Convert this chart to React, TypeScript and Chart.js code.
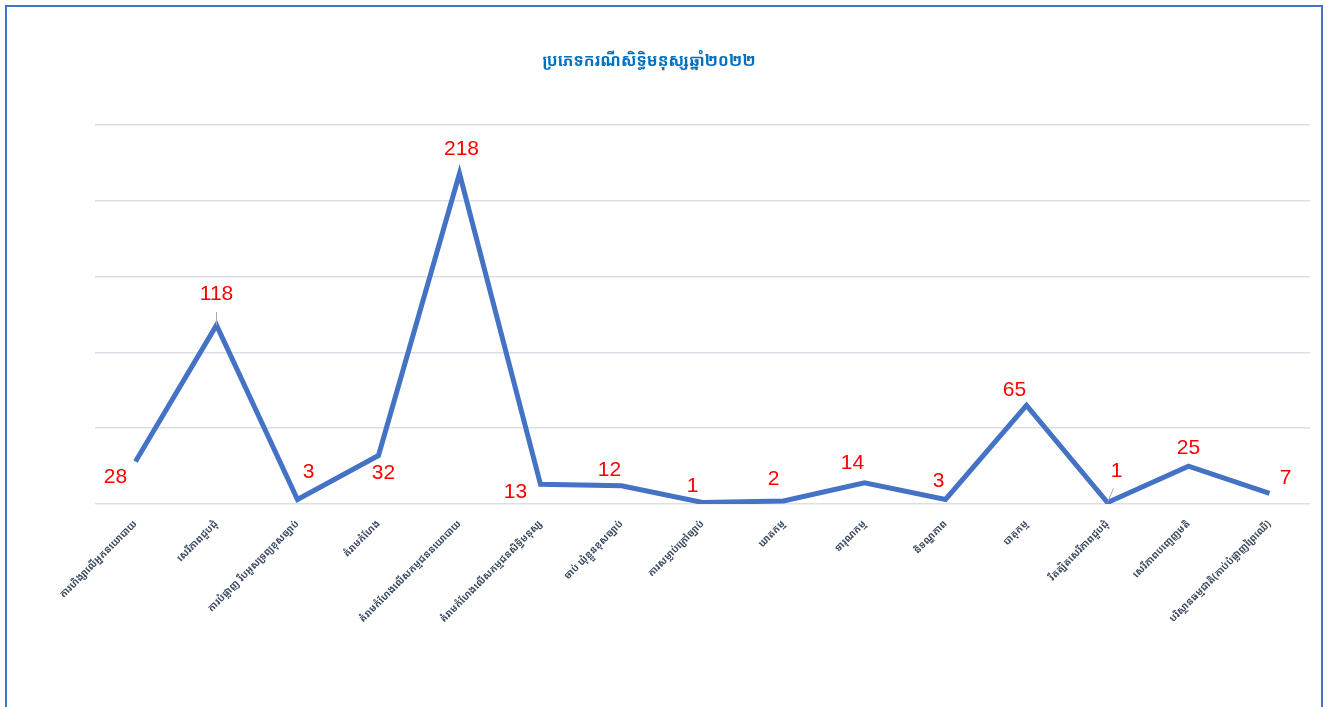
import React, { useEffect, useRef } from "react";
import { Chart, registerables } from "chart.js";

Chart.register(...registerables);

const TITLE = "ប្រភេទករណីសិទ្ធិមនុស្សឆ្នាំ២០២២";

const categories: string[] = [
  "ការហិង្សាលើអ្នកនយោបាយ",
  "សេរីភាពជួបជុំ",
  "ការបំផ្លាញ រឹបអូសទ្រព្យខុសច្បាប់",
  "គំរាមកំហែង",
  "គំរាមកំហែងលើសកម្មជននយោបាយ",
  "គំរាមកំហែងលើសកម្មជនសិទ្ធិមនុស្ស",
  "ចាប់ ឃុំខ្លួនខុសច្បាប់",
  "ការសម្លាប់ក្រៅច្បាប់",
  "ឃាតកម្ម",
  "ទារុណកម្ម",
  "និទណ្ឌភាព",
  "បាតុកម្ម",
  "រឹតត្បិតសេរីភាពជួបជុំ",
  "សេរីភាពបញ្ចេញមតិ",
  "បរិស្ថានធម្មជាតិ(កាប់បំផ្លាញព្រៃឈើ)",
];

const caseCounts: number[] = [28, 118, 3, 32, 218, 13, 12, 1, 2, 14, 3, 65, 1, 25, 7];

const yTicks = { min: 0, max: 250, step: 50 };

// label placement offsets relative to each point (style only)
const labelOffsets: [number, number][] = [
  [-20, 16], [0, -31], [11, -27], [5, 18], [2, -24],
  [-25, 8], [-12, -16], [-10, -16], [-10, -22], [-12, -20],
  [-7, -18], [-12, -15], [9, -31], [0, -18], [16, -15],
];

const labelPlugin = {
  id: "pointLabels",
  afterDatasetsDraw(chart: any) {
    const ctx = chart.ctx;
    const meta = chart.getDatasetMeta(0);
    ctx.save();
    // leader lines
    ctx.strokeStyle = "#A6A6A6";
    ctx.lineWidth = 1;
    const p1 = meta.data[1];
    ctx.beginPath();
    ctx.moveTo(p1.x, p1.y - 13);
    ctx.lineTo(p1.x, p1.y);
    ctx.stroke();
    const p12 = meta.data[12];
    ctx.beginPath();
    ctx.moveTo(p12.x + 6, p12.y - 14);
    ctx.lineTo(p12.x, p12.y);
    ctx.stroke();

    ctx.fillStyle = "#FF0000";
    ctx.font = "21px 'Liberation Sans', 'Noto Sans', sans-serif";
    ctx.textAlign = "center";
    ctx.textBaseline = "middle";
    meta.data.forEach((pt: any, i: number) => {
      const [dx, dy] = labelOffsets[i] || [0, -18];
      ctx.fillText(String(caseCounts[i]), pt.x + dx, pt.y + dy);
    });

    // title
    ctx.fillStyle = "#0070C0";
    ctx.font = "bold 16px 'Noto Sans Khmer', 'Khmer OS', 'Noto Sans', sans-serif";
    ctx.textAlign = "center";
    ctx.textBaseline = "middle";
    ctx.fillText(TITLE, 642, 54);
    ctx.restore();
  },
};

export default function App() {
  const ref = useRef<HTMLCanvasElement | null>(null);

  useEffect(() => {
    if (!ref.current) return;
    const chart = new Chart(ref.current, {
      type: "line",
      data: {
        labels: categories,
        datasets: [
          {
            data: caseCounts,
            borderColor: "#4472C4",
            borderWidth: 5,
            pointRadius: 0,
            tension: 0,
            fill: false,
          },
        ],
      },
      options: {
        animation: false,
        responsive: false,
        maintainAspectRatio: false,
        layout: { padding: { left: 88, right: 11, top: 118, bottom: 0 } },
        plugins: {
          legend: { display: false },
          title: { display: false },
          tooltip: { enabled: false },
        },
        scales: {
          x: {
            offset: true,
            grid: { display: false },
            border: { display: false },
            ticks: {
              minRotation: 45,
              maxRotation: 45,
              autoSkip: false,
              color: "#3B4A5F",
              font: { size: 10, weight: "bold", family: "'Noto Sans Khmer', 'Khmer OS', 'Noto Sans', sans-serif" },
              padding: 6,
            },
            afterFit: (s: any) => {
              s.height = 203;
            },
          },
          y: {
            min: yTicks.min,
            max: yTicks.max,
            ticks: { display: false, stepSize: yTicks.step },
            grid: { color: "#DCE0E6", lineWidth: 1.5, drawTicks: false },
            border: { display: false },
            afterFit: (s: any) => {
              s.width = 0;
            },
          },
        },
      },
      plugins: [labelPlugin],
    });
    return () => chart.destroy();
  }, []);

  return (
    <div
      style={{
        position: "absolute",
        left: 5,
        top: 5,
        width: 1314,
        height: 720,
        border: "2px solid #4472C4",
        background: "#fff",
      }}
    >
      <canvas ref={ref} width={1314} height={700} style={{ display: "block" }} />
    </div>
  );
}
